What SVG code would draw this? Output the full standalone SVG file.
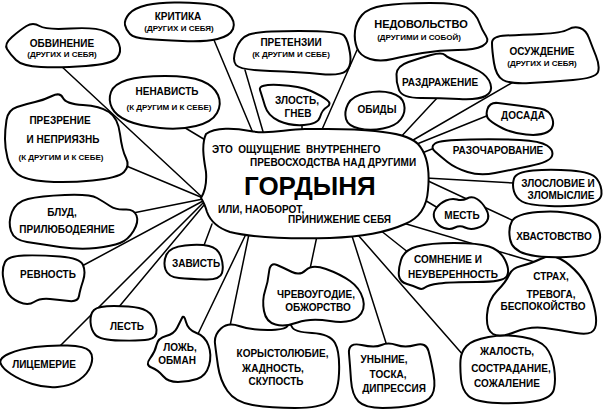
<svg xmlns="http://www.w3.org/2000/svg" width="604" height="410" viewBox="0 0 604 410">
<style>
.n{fill:#fff;stroke:#000;stroke-width:2;stroke-linejoin:round}
#connectors line{stroke:#000;stroke-width:1.5;stroke-linecap:round}
text{font-family:"Liberation Sans",Arial,sans-serif;font-weight:bold;fill:#000;text-anchor:middle;font-size:10px}
.s{font-size:8px}
.l{text-anchor:start}
.big{font-size:26px}
</style>
<rect width="604" height="410" fill="#fff"/>
<g id="connectors">
<line x1="60" y1="65" x2="203" y2="198"/>
<line x1="182" y1="126" x2="207" y2="141"/>
<line x1="124" y1="165" x2="203" y2="198"/>
<line x1="133" y1="213" x2="203" y2="199"/>
<line x1="82" y1="266" x2="203" y2="201"/>
<line x1="118" y1="308" x2="204" y2="205"/>
<line x1="57" y1="349" x2="203" y2="203"/>
<line x1="212" y1="224" x2="203" y2="248"/>
<line x1="197" y1="336" x2="246" y2="234"/>
<line x1="230" y1="326" x2="249" y2="234"/>
<line x1="317" y1="236" x2="310" y2="269"/>
<line x1="352" y1="236" x2="387" y2="346"/>
<line x1="358" y1="235" x2="464" y2="356"/>
<line x1="380" y1="230" x2="409" y2="253"/>
<line x1="403" y1="223" x2="538" y2="263"/>
<line x1="423" y1="199" x2="438" y2="208"/>
<line x1="426" y1="180" x2="514" y2="221"/>
<line x1="426" y1="178" x2="514" y2="183"/>
<line x1="422" y1="153" x2="437" y2="147"/>
<line x1="412" y1="146" x2="489" y2="115"/>
<line x1="408" y1="143" x2="515" y2="81"/>
<line x1="398" y1="140" x2="438" y2="97"/>
<line x1="360" y1="126" x2="357" y2="136"/>
<line x1="357" y1="50" x2="320" y2="134"/>
<line x1="302" y1="123" x2="302" y2="134"/>
<line x1="245" y1="70" x2="264" y2="135"/>
<line x1="214" y1="40" x2="253" y2="133"/>
</g>
<g id="n-obvinenie"><path class="n" d="M7,49 Q4,44 12,37 Q20,30 26.5,26 Q33,22 39.5,26 Q46,30 70.5,28.5 Q95,27 105.5,31.5 Q116,36 119,44 Q122,52 117,58 Q112,64 86,66 Q60,68 41,67 Q22,66 16,60 Q10,54 7,49Z"/><text x="62" y="47">ОБВИНЕНИЕ</text><text class="s" x="62" y="57.2">(ДРУГИХ И СЕБЯ)</text></g>
<g id="n-kritika"><path class="n" d="M125,25 Q124,20 129,14 Q134,8 147,5 Q160,2 180,2.5 Q200,3 211,4.5 Q222,6 229,14 Q236,22 233,29 Q230,36 217.5,39 Q205,42 182.5,41 Q160,40 147,39 Q134,38 130,34 Q126,30 125,25Z"/><text x="178" y="19.6">КРИТИКА</text><text class="s" x="179" y="30.6">(ДРУГИХ И СЕБЯ)</text></g>
<g id="n-nenavist"><path class="n" d="M112,108 Q108,100 111,92 Q114,84 127,80 Q140,76 165,76 Q190,76 202,81 Q214,86 218,95 Q222,104 217,113 Q212,122 196,126 Q180,130 160,128 Q140,126 128,121 Q116,116 112,108Z"/><text x="167" y="94.6">НЕНАВИСТЬ</text><text class="s" x="169" y="110">(К ДРУГИМ И К СЕБЕ)</text></g>
<g id="n-prezrenie"><path class="n" d="M5,139 Q5,130 6.5,120 Q8,110 17,107 Q26,104 35,102 Q44,100 52,96 Q60,92 63,98 Q66,104 83,105 Q100,106 109,112 Q118,118 120,134 Q122,150 126,158 Q130,166 124,172 Q118,178 92.5,180.5 Q67,183 46,181.5 Q25,180 17.5,174 Q10,168 7.5,158 Q5,148 5,139Z"/><text x="60" y="123.6">ПРЕЗРЕНИЕ</text><text x="63" y="143">И НЕПРИЯЗНЬ</text><text class="s" x="61" y="160">(К ДРУГИМ И К СЕБЕ)</text></g>
<g id="n-blud"><path class="n" d="M11,231 Q8,222 12,212 Q16,202 28,199 Q40,196 65,195 Q90,194 97,198 Q104,202 110,206 Q116,210 125,209.5 Q134,209 136.5,215.5 Q139,222 133.5,231 Q128,240 120,243 Q112,246 96,248 Q80,250 60,247 Q40,244 27,242 Q14,240 11,231Z"/><text x="62" y="215.5">БЛУД,</text><text x="67" y="233">ПРИЛЮБОДЕЯНИЕ</text></g>
<g id="n-revnost"><path class="n" d="M3,276.5 Q2,268 5,262 Q8,256 24,255.5 Q40,255 60,256.5 Q80,258 83,265 Q86,272 83,281 Q80,290 79,296 Q78,302 69,301 Q60,300 50,299 Q40,298 34,302 Q28,306 19,302 Q10,298 7,291.5 Q4,285 3,276.5Z"/><text x="48" y="278">РЕВНОСТЬ</text></g>
<g id="n-licemerie"><path class="n" d="M0.5,363 Q-1,358 9.5,353.5 Q20,349 35,347 Q50,345 67.5,345.5 Q85,346 89.5,351 Q94,356 91,365 Q88,374 79,380 Q70,386 57.5,387 Q45,388 32.5,384 Q20,380 11,374 Q2,368 0.5,363Z"/><text x="44" y="368">ЛИЦЕМЕРИЕ</text></g>
<g id="n-lest"><path class="n" d="M90.5,322 Q90,314 94,310 Q98,306 114,306 Q130,306 139,308 Q148,310 152,316 Q156,322 156.5,330 Q157,338 148.5,339.5 Q140,341 120,340.5 Q100,340 95.5,335 Q91,330 90.5,322Z"/><text x="127" y="330.3">ЛЕСТЬ</text></g>
<g id="n-zavist"><path class="n" d="M165.5,269.5 Q163,262 166.5,254.5 Q170,247 185,245.5 Q200,244 209,246 Q218,248 221,257 Q224,266 222,273 Q220,280 205,279.5 Q190,279 179,278 Q168,277 165.5,269.5Z"/><text x="196" y="267">ЗАВИСТЬ</text></g>
<g id="n-lozh"><path class="n" d="M151.5,367.5 Q145,365 150,358.5 Q155,352 156.5,345 Q158,338 166,336 Q174,334 177,328 Q180,322 182,318 Q184,314 186,322 Q188,330 196.5,333 Q205,336 208.5,345.5 Q212,355 209,365.5 Q206,376 197,379 Q188,382 178,382 Q168,382 163,376 Q158,370 151.5,367.5Z"/><text x="180" y="351.3">ЛОЖЬ,</text><text x="177" y="363.6">ОБМАН</text></g>
<g id="n-korystolyubie"><path class="n" d="M215,343.5 Q214,335 221,328.5 Q228,322 239,326 Q250,330 267.5,330 Q285,330 287.5,326 Q290,322 292,327 Q294,332 312,333 Q330,334 335,343 Q340,352 339,373.5 Q338,395 329,401.5 Q320,408 295,408 Q270,408 252.5,405 Q235,402 227.5,391 Q220,380 218,366 Q216,352 215,343.5Z"/><text x="282.5" y="357">КОРЫСТОЛЮБИЕ,</text><text x="273" y="372">ЖАДНОСТЬ,</text><text x="276" y="384.6">СКУПОСТЬ</text></g>
<g id="n-chrevougodie"><path class="n" d="M264,311 Q262,300 265,291 Q268,282 269,272 Q270,262 277,265 Q284,268 292,272 Q300,276 306,270 Q312,264 326,269 Q340,274 350,281 Q360,288 363,299 Q366,310 358,317 Q350,324 330,321 Q310,318 297.5,322.5 Q285,327 275.5,324.5 Q266,322 264,311Z"/><text x="316" y="297.6">ЧРЕВОУГОДИЕ,</text><text x="318" y="310.6">ОБЖОРСТВО</text></g>
<g id="n-unynie"><path class="n" d="M349,353.5 Q348,342 361.5,345 Q375,348 381.5,345 Q388,342 396.5,345 Q405,348 415.5,345 Q426,342 428.5,351 Q431,360 433.5,374 Q436,388 432,395 Q428,402 414,405 Q400,408 382.5,408 Q365,408 358.5,401.5 Q352,395 351,380 Q350,365 349,353.5Z"/><text x="384" y="362.6">УНЫНИЕ,</text><text x="388" y="377.6">ТОСКА,</text><text x="394" y="391.6">ДИПРЕССИЯ</text></g>
<g id="n-zhalost"><path class="n" d="M460.5,360 Q461,352 466.5,346 Q472,340 488.5,337 Q505,334 522.5,337 Q540,340 546,347.5 Q552,355 554,367.5 Q556,380 554,389 Q552,398 536,401 Q520,404 497.5,403 Q475,402 468.5,396 Q462,390 461,379 Q460,368 460.5,360Z"/><text x="507" y="354.6">ЖАЛОСТЬ,</text><text x="511" y="371.6">СОСТРАДАНИЕ,</text><text x="507" y="386.6">СОЖАЛЕНИЕ</text></g>
<g id="n-strah"><path class="n" d="M509,275 Q512,268 521,266 Q530,264 540.5,259 Q551,254 560.5,259 Q570,264 579,274.5 Q588,285 593,302.5 Q598,320 595,328 Q592,336 576,333 Q560,330 545,328 Q530,326 515,332 Q500,338 493,334 Q486,330 487,315 Q488,300 497,291 Q506,282 509,275Z"/><text x="551" y="279.6">СТРАХ,</text><text x="551" y="298">ТРЕВОГА,</text><text x="543" y="309.6">БЕСПОКОЙСТВО</text></g>
<g id="n-somnenie"><path class="n" d="M399,276 Q398,270 401,260 Q404,250 417,246.5 Q430,243 454,243 Q478,243 489,246.5 Q500,250 505,260 Q510,270 507,276 Q504,282 477,282 Q450,282 439,283.5 Q428,285 425,287.5 Q422,290 418,288 Q414,286 407,284 Q400,282 399,276Z"/><text x="448" y="263">СОМНЕНИЕ И</text><text x="453" y="277.6">НЕУВЕРЕННОСТЬ</text></g>
<g id="n-mest"><path class="n" d="M435,220 Q432,214 436,208.5 Q440,203 446,200.5 Q452,198 457,199.5 Q462,201 467,198.5 Q472,196 477,199 Q482,202 486,209 Q490,216 487,221 Q484,226 477,228 Q470,230 465,227.5 Q460,225 455,227.5 Q450,230 444,228 Q438,226 435,220Z"/><text x="462" y="218.6">МЕСТЬ</text></g>
<g id="n-hvastovstvo"><path class="n" d="M510,239 Q508,228 512,221 Q516,214 538,212 Q560,210 578,215 Q596,220 599,230 Q602,240 597,248 Q592,256 566,257 Q540,258 526,254 Q512,250 510,239Z"/><text x="554" y="240.3">ХВАСТОВСТВО</text></g>
<g id="n-zloslovie"><path class="n" d="M514,191.5 Q512,185 514,178.5 Q516,172 533,170.5 Q550,169 571,170.5 Q592,172 597,179 Q602,186 601.5,194 Q601,202 585.5,204.5 Q570,207 549,206 Q528,205 522,201.5 Q516,198 514,191.5Z"/><text x="558" y="187">ЗЛОСЛОВИЕ И</text><text x="561" y="198.6">ЗЛОМЫСЛИЕ</text></g>
<g id="n-razocharovanie"><path class="n" d="M435,151.5 Q430,147 435,143.5 Q440,140 470,139.5 Q500,139 520,140 Q540,141 547,145.5 Q554,150 552,156 Q550,162 530,166 Q510,170 495,173 Q480,176 467.5,172 Q455,168 447.5,162 Q440,156 435,151.5Z"/><text x="498" y="154.3">РАЗОЧАРОВАНИЕ</text></g>
<g id="n-dosada"><path class="n" d="M489.5,120 Q485,116 487.5,109 Q490,102 498,103 Q506,104 518,105.5 Q530,107 540,108.5 Q550,110 552.5,119 Q555,128 547.5,132 Q540,136 526,134.5 Q512,133 503,128.5 Q494,124 489.5,120Z"/><text x="523" y="119.3">ДОСАДА</text></g>
<g id="n-osuzhdenie"><path class="n" d="M492,43 Q492,36 506,35.5 Q520,35 541,34 Q562,33 568,29.5 Q574,26 580,28 Q586,30 589,38 Q592,46 596,56 Q600,66 598,72 Q596,78 573,80 Q550,82 530,83 Q510,84 503,80 Q496,76 494,63 Q492,50 492,43Z"/><text x="542" y="55.3">ОСУЖДЕНИЕ</text><text class="s" x="542" y="66.2">(ДРУГИХ И СЕБЯ)</text></g>
<g id="n-razdrazhenie"><path class="n" d="M396.5,74 Q397,66 408.5,62 Q420,58 431,55 Q442,52 445,55 Q448,58 459,62 Q470,66 479,71 Q488,76 490.5,84 Q493,92 485.5,96 Q478,100 459,99 Q440,98 421,98 Q402,98 399,90 Q396,82 396.5,74Z"/><text x="440" y="86.3">РАЗДРАЖЕНИЕ</text></g>
<g id="n-nedovolstvo"><path class="n" d="M355,31 Q356,22 362,15 Q368,8 384,5.5 Q400,3 430,3 Q460,3 468,8.5 Q476,14 479,22 Q482,30 486,36 Q490,42 482.5,46 Q475,50 457.5,50 Q440,50 422.5,53 Q405,56 392.5,59 Q380,62 370,59 Q360,56 357,48 Q354,40 355,31Z"/><text x="421" y="27.6" style="font-size:11px">НЕДОВОЛЬСТВО</text><text class="s" x="419" y="40.2">(ДРУГИМИ И СОБОЙ)</text></g>
<g id="n-pretenzii"><path class="n" d="M236,65 Q232,60 236,49 Q240,38 249,34.5 Q258,31 299,31 Q340,31 344,35.5 Q348,40 350,53 Q352,66 346,71 Q340,76 320,74 Q300,72 270,71 Q240,70 236,65Z"/><text x="291" y="46">ПРЕТЕНЗИИ</text><text class="s" x="291" y="57">(К ДРУГИМ И СЕБЕ)</text></g>
<g id="n-zlost"><path class="n" d="M260,90 Q258,84 279,85 Q300,86 311,91 Q322,96 327,100 Q332,104 327,107 Q322,110 320,117 Q318,124 304,125 Q290,126 279,121 Q268,116 265,106 Q262,96 260,90Z"/><text x="297" y="103.6">ЗЛОСТЬ,</text><text x="298" y="117">ГНЕВ</text></g>
<g id="n-obidy"><path class="n" d="M346,119 Q344,112 348,104 Q352,96 366,93 Q380,90 391,93 Q402,96 404,104 Q406,112 401,119 Q396,126 383,128.5 Q370,131 359,128.5 Q348,126 346,119Z"/><text x="377" y="112.6">ОБИДЫ</text></g>
<g id="n-gordynya"><path class="n" d="M206,134 C215,127 235,128 250,131 C270,135 285,129 305,129 C330,129 350,128 375,131 C395,133 410,136 418,144 C428,155 430,170 428,190 C427,205 420,218 405,224 C385,233 360,237 330,238 C290,239 250,237 230,232 C218,228 210,220 207,212 C205,205 203,201 201,198 C204,193 207,185 206,172 C204,160 201,145 206,134Z"/>
<text class="l" x="212" y="152.6">ЭТО &#160;ОЩУЩЕНИЕ &#160;ВНУТРЕННЕГО</text>
<text class="l" x="250" y="166.3">ПРЕВОСХОДСТВА НАД ДРУГИМИ</text>
<text class="l big" x="244" y="195">ГОРДЫНЯ</text>
<text class="l" x="218" y="212.6">ИЛИ, НАОБОРОТ,</text>
<text class="l" x="288" y="222.6">ПРИНИЖЕНИЕ СЕБЯ</text>
</g>
</svg>
